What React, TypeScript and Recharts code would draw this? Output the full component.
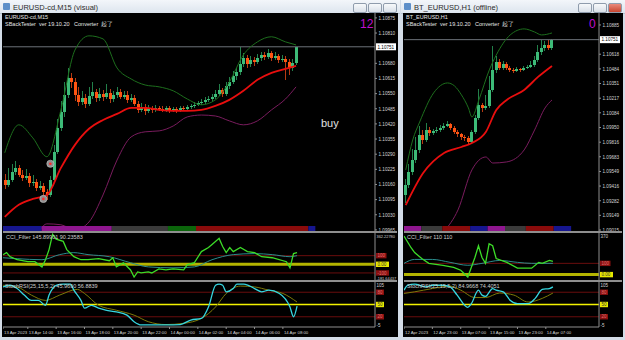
import React from 'react';
import { ComposedChart, BarChart, Bar, Line, XAxis, YAxis, ReferenceLine, ReferenceDot } from 'recharts';

const FONT = '"Liberation Sans", Arial, sans-serif';
const AXIS_TXT = '#d4d4d4';
const FRAME = '#8e8e8e';

// ---------- EURUSD-cd M15 (left window) ----------
const m15Slots = 106;
const m15FirstOpen = 1.1018;
const m15Close = [
  1.10158, 1.1018, 1.10214, 1.10231, 1.10201, 1.10188, 1.10197, 1.10167, 1.10171, 1.10145, 1.10154, 1.10128,
  1.10115, 1.1018, 1.103, 1.10403, 1.10472, 1.10544, 1.10617, 1.106, 1.10544, 1.10514, 1.10532, 1.10506,
  1.1054, 1.10557, 1.10532, 1.10549, 1.10536, 1.10553, 1.10527, 1.10544, 1.10557, 1.10536, 1.10544, 1.10523,
  1.10532, 1.10506, 1.1048, 1.10493, 1.10476, 1.10489, 1.1048, 1.10489, 1.10484, 1.1048, 1.10489, 1.10476,
  1.10484, 1.10476, 1.10489, 1.10484, 1.10493, 1.10497, 1.10502, 1.1051, 1.10514, 1.10523, 1.10527, 1.10536,
  1.10549, 1.10566, 1.10549, 1.10583, 1.106, 1.10626, 1.10643, 1.10677, 1.10703, 1.10677, 1.10695, 1.10686,
  1.10703, 1.10716, 1.10707, 1.10725, 1.10703, 1.10712, 1.10695, 1.10699, 1.10686, 1.1066, 1.10682, 1.10751,
];
const m15High = [
  1.10205, 1.1023, 1.1025, 1.10262, 1.10245, 1.1022, 1.10225, 1.1021, 1.102, 1.10185, 1.10175, 1.10165,
  1.1014, 1.10195, 1.1033, 1.1044, 1.1052, 1.106, 1.1066, 1.1064, 1.10615, 1.1058, 1.1056, 1.1055,
  1.1058, 1.106, 1.1057, 1.10575, 1.10565, 1.1059, 1.1057, 1.1056, 1.1058, 1.1057, 1.1056, 1.1056,
  1.1055, 1.10545, 1.1052, 1.1051, 1.10505, 1.105, 1.10498, 1.105, 1.10496, 1.10495, 1.10498, 1.10495,
  1.10494, 1.10492, 1.10498, 1.10497, 1.10503, 1.10506, 1.10512, 1.1052, 1.10525, 1.10535, 1.1054, 1.1055,
  1.10565, 1.1059, 1.10575, 1.106, 1.1062, 1.10645, 1.1066, 1.1075, 1.10725, 1.10715, 1.10712, 1.10708,
  1.1072, 1.1073, 1.10728, 1.1074, 1.10735, 1.10728, 1.10722, 1.10715, 1.1071, 1.107, 1.107, 1.10752,
];
const m15Low = [
  1.1014, 1.1015, 1.1017, 1.102, 1.1019, 1.10175, 1.1018, 1.1015, 1.10155, 1.1013, 1.10135, 1.1011,
  1.10095, 1.10105, 1.1017, 1.1029, 1.1039, 1.1045, 1.1053, 1.10575, 1.1052, 1.10495, 1.105, 1.1049,
  1.10495, 1.10525, 1.10515, 1.1052, 1.1052, 1.10525, 1.1051, 1.10515, 1.1053, 1.10525, 1.10525, 1.1051,
  1.10515, 1.10495, 1.10465, 1.1047, 1.1046, 1.10465, 1.10468, 1.10472, 1.10474, 1.1047, 1.10472, 1.10465,
  1.1047, 1.10466, 1.1047, 1.10475, 1.10478, 1.10485, 1.10488, 1.10495, 1.105, 1.10505, 1.10512, 1.10515,
  1.10525, 1.1054, 1.10535, 1.1054, 1.1057, 1.1059, 1.1061, 1.1063, 1.10665, 1.1066, 1.10665, 1.1067,
  1.10675, 1.1069, 1.10695, 1.107, 1.1069, 1.10695, 1.1068, 1.10685, 1.1061, 1.1063, 1.10645, 1.10672,
];
const m15BandAt = [0, 4, 8, 12, 16, 20, 24, 28, 32, 36, 40, 44, 48, 52, 56, 60, 64, 68, 72, 76, 80, 83];
const m15Upper = [
  1.10296, 1.10416, 1.1036, 1.10279, 1.1048, 1.10737, 1.10798, 1.10785, 1.1066, 1.10613, 1.10587,
  1.10579, 1.10562, 1.10527, 1.10502, 1.10523, 1.106, 1.10716, 1.10772, 1.10794, 1.10772, 1.10759,
];
const m15Mid = [
  1.10021, 1.10073, 1.10098, 1.10115, 1.10231, 1.1033, 1.10399, 1.10437, 1.10463, 1.10489, 1.10489,
  1.1048, 1.10476, 1.10476, 1.1048, 1.10497, 1.10523, 1.10562, 1.10609, 1.10639, 1.10656, 1.10669,
];
const m15Lower = [
  1.09837, 1.0988, 1.09923, 1.09991, 1.09987, 1.09965, 1.09999, 1.10115, 1.10265, 1.10364, 1.10386,
  1.1039, 1.10411, 1.1045, 1.10458, 1.10454, 1.10433, 1.10416, 1.10433, 1.1048, 1.10527, 1.10579,
];
// 1.10745 sits under the last-price box, so it is left out
const m15PriceTicks = [
  1.09965, 1.1003, 1.10095, 1.1016, 1.10225, 1.1029, 1.10355, 1.1042, 1.10485, 1.1055, 1.10615, 1.1068,
  1.1081, 1.10875,
];
const m15Last = 1.10751;
const m15SignalAt = [13, 11];
const m15SignalPrice = [1.10249, 1.10098];
const m15TimeAt = [0, 7, 15, 23, 31, 39, 47, 55, 63, 71, 79];
const m15TimeText = [
  '13 Apr 2023', '13 Apr 14:00', '13 Apr 16:00', '13 Apr 18:00', '13 Apr 20:00', '13 Apr 22:00',
  '14 Apr 00:00', '14 Apr 02:00', '14 Apr 04:00', '14 Apr 06:00', '14 Apr 08:00',
];
const m15CciAt = [
  0, 1, 2, 4, 7, 9, 11, 12, 13, 14, 15, 17, 18, 20, 22, 24, 27, 30, 31, 32, 34, 36, 37, 38, 39, 41, 42, 44,
  46, 48, 51, 52, 54, 56, 58, 59, 61, 62, 63, 64, 65, 67, 69, 71, 73, 76, 80, 81, 82, 83,
];
const m15Cci = [
  112, 135, 88, 53, 30, 30, -30, 53, 170, 347, 290, 265, 170, 88, 53, 53, 65, 41, 76, -30, 18, -65, -147, -88,
  -100, -88, -100, -53, -65, -53, -65, -6, 18, 147, 194, 230, 300, 206, 135, 194, 147, 194, 147, 135, 88, 76,
  30, -41, 124, 135,
];
const m15CciSigAt = [0, 4, 11, 16, 20, 24, 30, 36, 41, 48, 54, 59, 65, 71, 76, 81, 83];
const m15CciSig = [76, 65, 53, 112, 135, 112, 88, 18, -30, -41, -30, 53, 112, 124, 112, 88, 100];
const m15CciTicks = [-181.64437, -100, 0, 100, 362.2278];
const m15CciText = ['-181.64437', '-100', '0.00', '100', '362.22780'];
const m15StochAt = [
  0, 2, 4, 6, 8, 10, 12, 13, 15, 17, 19, 20, 22, 23, 25, 27, 29, 32, 35, 37, 39, 42, 46, 50, 53, 56, 58, 60,
  61, 62, 63, 65, 66, 68, 71, 73, 75, 78, 81, 82, 83,
];
const m15Stoch = [
  93, 97, 89, 73, 60, 60, 48, 73, 97, 100, 100, 85, 60, 41, 48, 41, 36, 32, 24, 8, 0, 0, 0, 1, 12, 16, 44, 97,
  100, 97, 81, 89, 100, 100, 89, 81, 85, 77, 44, 20, 46,
];
const m15StochSigAt = [0, 4, 8, 12, 16, 21, 23, 27, 32, 37, 41, 46, 51, 56, 60, 63, 67, 71, 75, 79, 83];
const m15StochSig = [97, 93, 73, 60, 73, 87, 77, 48, 36, 24, 8, 1, 4, 16, 44, 77, 95, 93, 85, 77, 56];
const m15SegLen = [11, 20, 16, 8, 32, 2];
const m15SegColor = ['#16168f', '#8f168f', '#3a3a3a', '#0b650b', '#8a0b0b', '#16168f'];

// ---------- BT_EURUSD H1 (right window) ----------
const h1Slots = 56;
const h1FirstOpen = 1.09335;
const h1Close = [
  1.09426, 1.09544, 1.09654, 1.09745, 1.09882, 1.09836, 1.09927, 1.099, 1.09918, 1.09927, 1.09946, 1.09964,
  1.09982, 1.09946, 1.09909, 1.09891, 1.09864, 1.09854, 1.09818, 1.09909, 1.10037, 1.10155, 1.10128, 1.10146,
  1.10292, 1.10475, 1.10548, 1.10493, 1.10529, 1.10493, 1.10475, 1.10466, 1.10484, 1.10475, 1.10493, 1.10502,
  1.1052, 1.10566, 1.10639, 1.10675, 1.10703, 1.10675, 1.10751,
];
const h1High = [
  1.0948, 1.0962, 1.0975, 1.0986, 1.0996, 1.0993, 1.0999, 1.0995, 1.0994, 1.0995, 1.0997, 1.0999, 1.1001,
  1.09995, 1.0996, 1.09925, 1.099, 1.0988, 1.0987, 1.0993, 1.1006, 1.103, 1.1017, 1.1025, 1.1042, 1.1069,
  1.106, 1.1057, 1.1056, 1.10545, 1.1051, 1.1049, 1.105, 1.10495, 1.1051, 1.1052, 1.1056, 1.106, 1.107,
  1.10751, 1.1074, 1.10751, 1.1076,
];
const h1Low = [
  1.09262, 1.094, 1.0952, 1.0963, 1.0972, 1.098, 1.0982, 1.0987, 1.0988, 1.099, 1.0991, 1.0993, 1.0995,
  1.0993, 1.0989, 1.0986, 1.0984, 1.0983, 1.0979, 1.098, 1.09895, 1.1002, 1.1009, 1.1011, 1.1013, 1.1027,
  1.1045, 1.1047, 1.1047, 1.1047, 1.10455, 1.1045, 1.10455, 1.1046, 1.10465, 1.10485, 1.1049, 1.10505,
  1.1055, 1.1061, 1.1065, 1.1066, 1.1066,
];
const h1UpperAt = [0, 2, 4, 8, 12, 14, 16, 18, 19, 21, 24, 26, 30, 34, 37, 39, 42];
const h1Upper = [
  1.09563, 1.09836, 1.1, 1.10265, 1.10356, 1.10329, 1.10247, 1.10128, 1.10046, 1.10201, 1.10475, 1.10611,
  1.10794, 1.10849, 1.10821, 1.10794, 1.10812,
];
const h1MidAt = [0, 5, 11, 16, 19, 23, 26, 29, 34, 38, 42];
const h1Mid = [1.09243, 1.09535, 1.09718, 1.09772, 1.09809, 1.09909, 1.1011, 1.10201, 1.10292, 1.10411, 1.10511];
const h1LowerAt = [0, 6, 11, 15, 19, 23, 25, 29, 34, 37, 40, 42];
const h1Lower = [1.086, 1.088, 1.08997, 1.09198, 1.09563, 1.09681, 1.09626, 1.09636, 1.09745, 1.09927, 1.10128, 1.10201];
const h1PriceTicks = [
  1.09015, 1.09149, 1.09282, 1.09416, 1.09549, 1.09683, 1.09816, 1.0995, 1.10084, 1.10217, 1.10351, 1.10484,
  1.10618, 1.10885,
];
const h1Last = 1.10751;
const h1TimeAt = [0, 8, 16, 24, 32, 40];
const h1TimeText = ['12 Apr 2023', '12 Apr 23:00', '13 Apr 07:00', '13 Apr 15:00', '13 Apr 23:00', '14 Apr 07:00'];
const h1CciAt = [0, 2, 3, 5, 7, 11, 14, 16, 18, 19, 20, 21, 22, 23, 24, 25, 26, 29, 32, 36, 38, 39, 41, 42];
const h1Cci = [343, 239, 196, 143, 100, 83, 65, 39, -22, 65, 152, 257, 152, 100, 274, 257, 143, 109, 57, 57, 109, 100, 126, 117];
const h1CciSigAt = [0, 3, 8, 13, 18, 22, 27, 32, 36, 42];
const h1CciSig = [100, 135, 135, 109, 83, 100, 126, 109, 100, 100];
const h1CciTicks = [0, 100, 370];
const h1CciText = ['0.00', '100', '370'];
const h1StochAt = [0, 1, 3, 6, 8, 11, 13, 15, 18, 19, 21, 22, 23, 25, 26, 28, 30, 32, 35, 37, 39, 41, 42];
const h1Stoch = [85, 97, 100, 93, 97, 97, 93, 73, 43, 52, 85, 73, 70, 89, 85, 81, 60, 52, 52, 65, 87, 89, 93];
const h1StochSigAt = [0, 3, 8, 13, 16, 20, 23, 27, 31, 35, 39, 42];
const h1StochSig = [77, 81, 89, 95, 85, 67, 67, 78, 73, 56, 65, 78];
const h1SegLen = [5, 6, 8, 5, 5, 6, 8, 5];
const h1SegColor = ['#8f168f', '#3a3a3a', '#8a0b0b', '#16168f', '#8f168f', '#3a3a3a', '#8a0b0b', '#16168f'];

const stochTicks = [-5, 20, 50, 80, 105];
const stochText = ['-5', '20', '50', '80', '105'];

type Row = { i: number; [k: string]: number | undefined };

function buildRows(slots: number, firstOpen: number, close: number[], high: number[], low: number[]) {
  const rows: Row[] = [];
  for (let i = 0; i < slots; i++) rows.push({ i });
  close.forEach((c, k) => {
    rows[k].open = k === 0 ? firstOpen : close[k - 1];
    rows[k].close = c;
    rows[k].high = high[k];
    rows[k].low = low[k];
  });
  return rows;
}

function put(rows: Row[], key: string, at: number[], vals: number[]) {
  at.forEach((k, n) => {
    rows[k][key] = vals[n];
  });
}

const m15Rows = buildRows(m15Slots, m15FirstOpen, m15Close, m15High, m15Low);
put(m15Rows, 'upper', m15BandAt, m15Upper);
put(m15Rows, 'mid', m15BandAt, m15Mid);
put(m15Rows, 'lower', m15BandAt, m15Lower);
put(m15Rows, 'cci', m15CciAt, m15Cci);
put(m15Rows, 'cciSig', m15CciSigAt, m15CciSig);
put(m15Rows, 'stoch', m15StochAt, m15Stoch);
put(m15Rows, 'stochSig', m15StochSigAt, m15StochSig);

const h1Rows = buildRows(h1Slots, h1FirstOpen, h1Close, h1High, h1Low);
put(h1Rows, 'upper', h1UpperAt, h1Upper);
put(h1Rows, 'mid', h1MidAt, h1Mid);
put(h1Rows, 'lower', h1LowerAt, h1Lower);
put(h1Rows, 'cci', h1CciAt, h1Cci);
put(h1Rows, 'cciSig', h1CciSigAt, h1CciSig);
put(h1Rows, 'stoch', h1StochAt, h1Stoch);
put(h1Rows, 'stochSig', h1StochSigAt, h1StochSig);

function Candle(props: any) {
  const { x, y, width, height, payload } = props;
  if (!payload || payload.close == null) return null;
  const top = Math.min(y, y + height);
  const h = Math.abs(height);
  const span = payload.high - payload.low || 1e-9;
  const py = (v: number) => top + ((payload.high - v) / span) * h;
  const up = payload.close >= payload.open;
  const cx = Math.floor(x + width / 2);
  const b1 = py(Math.max(payload.open, payload.close));
  const b2 = py(Math.min(payload.open, payload.close));
  return (
    <g shapeRendering="crispEdges">
      <line x1={cx + 0.5} x2={cx + 0.5} y1={top} y2={top + h} stroke={up ? '#23804a' : '#b83a12'} />
      <rect x={cx - 1} y={b1} width={3} height={Math.max(1, b2 - b1)} fill={up ? '#3dbb78' : '#ff5412'} />
    </g>
  );
}

function PriceTick(props: any) {
  const { x, y, payload, last } = props;
  const v = payload.value as number;
  if (v === last) {
    return (
      <g>
        <rect x={x + 1} y={y - 3.5} width={20} height={7} fill="#ffffff" />
        <text x={x + 2.5} y={y + 1.8} fontSize={4.6} fill="#000" fontFamily={FONT}>
          {v.toFixed(5)}
        </text>
      </g>
    );
  }
  return (
    <g>
      <line x1={x} x2={x + 2} y1={y} y2={y} stroke={FRAME} />
      <text x={x + 3.5} y={y + 1.8} fontSize={4.6} fill={AXIS_TXT} fontFamily={FONT}>
        {v.toFixed(5)}
      </text>
    </g>
  );
}

function LevelTick(props: any) {
  const { x, y, payload, ticks, texts, reds, yellow } = props;
  const v = payload.value as number;
  const label = texts[ticks.indexOf(v)] ?? String(v);
  const isTop = v === ticks[ticks.length - 1];
  const isBottom = v === ticks[0];
  if (reds.includes(v) || v === yellow) {
    const w = label.length * 2.5 + 3;
    return (
      <g>
        <rect x={x + 1} y={y - 2.7} width={w} height={5.4} fill={v === yellow ? '#e8e800' : '#8a1010'} />
        <text x={x + 2.5} y={y + 1.7} fontSize={4.5} fill={v === yellow ? '#333' : '#e07070'} fontFamily={FONT}>
          {label}
        </text>
      </g>
    );
  }
  const dy = isTop ? 4.5 : isBottom ? 0 : 1.7;
  return (
    <text x={x + 1.5} y={y + dy} fontSize={label.length > 6 ? 3.9 : 4.5} fill={AXIS_TXT} fontFamily={FONT}>
      {label}
    </text>
  );
}

function TimeTick(props: any) {
  const { x, y, payload, at, texts } = props;
  const k = at.indexOf(payload.value);
  if (k < 0) return <g />;
  return (
    <g>
      <line x1={x} x2={x} y1={y} y2={y + 2} stroke={FRAME} />
      <text x={x + 1} y={y + 7} fontSize={4.3} fill={AXIS_TXT} fontFamily={FONT}>
        {texts[k]}
      </text>
    </g>
  );
}

function SignalDot(props: any) {
  const { cx, cy } = props;
  return (
    <g>
      <circle cx={cx} cy={cy} r={3.6} fill="#8f8f8f" stroke="#c8c8c8" strokeWidth={0.6} />
      <circle cx={cx} cy={cy} r={1.3} fill="#ff2a2a" />
    </g>
  );
}

type Term = {
  left: number;
  plotW: number;
  axisW: number;
  slots: number;
  rows: Row[];
  priceDomain: number[];
  priceTicks: number[];
  last: number;
  timeAt: number[];
  timeText: string[];
  cciDomain: number[];
  cciTicks: number[];
  cciText: string[];
  segLen: number[];
  segColor: string[];
  signalAt: number[];
  signalPrice: number[];
};

const M0 = { top: 0, right: 0, bottom: 0, left: 0 };

function Terminal({ t }: { t: Term }) {
  const W = t.plotW + t.axisW;
  const segRow: Record<string, number | string> = { name: 'seg' };
  t.segLen.forEach((v, k) => (segRow[`s${k}`] = v));
  const yAxisCommon = {
    orientation: 'right' as const,
    width: t.axisW,
    allowDataOverflow: true,
    interval: 0 as const,
    tickLine: false,
    tickSize: 0,
    tickMargin: 0,
    axisLine: { stroke: FRAME },
  };
  return (
    <>
      <div style={{ position: 'absolute', left: t.left, top: 13 }}>
        <ComposedChart width={W} height={219} data={t.rows} margin={M0} barCategoryGap={0}>
          <XAxis dataKey="i" type="category" hide />
          <YAxis
            {...yAxisCommon}
            domain={t.priceDomain}
            ticks={[...t.priceTicks, t.last]}
            tick={(p: any) => <PriceTick {...p} last={t.last} />}
          />
          <ReferenceLine y={t.last} stroke="#6c7278" />
          <Line dataKey="upper" type="monotone" stroke="#1d6e1d" strokeWidth={1} dot={false} connectNulls isAnimationActive={false} />
          <Line dataKey="lower" type="monotone" stroke="#7a1c5e" strokeWidth={1} dot={false} connectNulls isAnimationActive={false} />
          <Bar
            dataKey={(d: Row) => (d.high == null ? null : [d.low, d.high])}
            shape={(p: any) => <Candle {...p} />}
            isAnimationActive={false}
          />
          <Line dataKey="mid" type="monotone" stroke="#e80e0e" strokeWidth={1.8} dot={false} connectNulls isAnimationActive={false} />
          {t.signalAt.map((a, k) => (
            <ReferenceDot key={k} x={a} y={t.signalPrice[k]} r={3.6} shape={(p: any) => <SignalDot {...p} />} />
          ))}
        </ComposedChart>
      </div>

      <div style={{ position: 'absolute', left: t.left, top: 226 }}>
        <BarChart layout="vertical" width={t.plotW} height={5} data={[segRow]} margin={M0} barCategoryGap={0}>
          <XAxis type="number" domain={[0, t.slots]} hide />
          <YAxis type="category" dataKey="name" hide />
          {t.segLen.map((_, k) => (
            <Bar key={k} dataKey={`s${k}`} stackId="s" fill={t.segColor[k]} isAnimationActive={false} />
          ))}
        </BarChart>
      </div>

      <div style={{ position: 'absolute', left: t.left, top: 231, width: W, height: 2, background: FRAME }} />

      <div style={{ position: 'absolute', left: t.left, top: 233 }}>
        <ComposedChart width={W} height={47} data={t.rows} margin={M0}>
          <XAxis dataKey="i" type="category" hide />
          <YAxis
            {...yAxisCommon}
            domain={t.cciDomain}
            ticks={t.cciTicks}
            tick={(p: any) => <LevelTick {...p} ticks={t.cciTicks} texts={t.cciText} reds={[100, -100]} yellow={0} />}
          />
          <ReferenceLine y={100} stroke="#6a0d0d" />
          <ReferenceLine y={-100} stroke="#6a0d0d" />
          <ReferenceLine y={0} stroke="#b4b400" strokeWidth={3} />
          <Line dataKey="cciSig" type="monotone" stroke="#2b8d8d" strokeWidth={1} dot={false} connectNulls isAnimationActive={false} />
          <Line dataKey="cci" type="linear" stroke="#3cdc28" strokeWidth={1.3} dot={false} connectNulls isAnimationActive={false} />
        </ComposedChart>
      </div>

      <div style={{ position: 'absolute', left: t.left, top: 280, width: W, height: 2, background: FRAME }} />

      <div style={{ position: 'absolute', left: t.left, top: 282 }}>
        <ComposedChart width={W} height={55} data={t.rows} margin={M0}>
          <XAxis
            dataKey="i"
            type="category"
            height={10}
            interval={0}
            tickLine={false}
            tickSize={0}
            tickMargin={0}
            axisLine={{ stroke: FRAME }}
            tick={(p: any) => <TimeTick {...p} at={t.timeAt} texts={t.timeText} />}
          />
          <YAxis
            {...yAxisCommon}
            domain={[-5, 105]}
            ticks={stochTicks}
            tick={(p: any) => <LevelTick {...p} ticks={stochTicks} texts={stochText} reds={[80, 20]} yellow={50} />}
          />
          <ReferenceLine y={80} stroke="#6a0d0d" />
          <ReferenceLine y={20} stroke="#6a0d0d" />
          <ReferenceLine y={50} stroke="#f2f200" strokeWidth={1.5} />
          <Line dataKey="stochSig" type="monotone" stroke="#7d7a08" strokeWidth={1} dot={false} connectNulls isAnimationActive={false} />
          <Line dataKey="stoch" type="monotone" stroke="#35d6e0" strokeWidth={1.3} dot={false} connectNulls isAnimationActive={false} />
        </ComposedChart>
      </div>
    </>
  );
}

const leftTerm: Term = {
  left: 3,
  plotW: 372,
  axisW: 22,
  slots: m15Slots,
  rows: m15Rows,
  priceDomain: [1.09956, 1.10896],
  priceTicks: m15PriceTicks,
  last: m15Last,
  timeAt: m15TimeAt,
  timeText: m15TimeText,
  cciDomain: [-181.64437, 362.2278],
  cciTicks: m15CciTicks,
  cciText: m15CciText,
  segLen: m15SegLen,
  segColor: m15SegColor,
  signalAt: m15SignalAt,
  signalPrice: m15SignalPrice,
};

const rightTerm: Term = {
  left: 404,
  plotW: 195,
  axisW: 23,
  slots: h1Slots,
  rows: h1Rows,
  priceDomain: [1.08997, 1.10994],
  priceTicks: h1PriceTicks,
  last: h1Last,
  timeAt: h1TimeAt,
  timeText: h1TimeText,
  cciDomain: [-48, 370],
  cciTicks: h1CciTicks,
  cciText: h1CciText,
  segLen: h1SegLen,
  segColor: h1SegColor,
  signalAt: [],
  signalPrice: [],
};

const small = { position: 'absolute' as const, fontFamily: FONT, fontSize: 5.5, color: '#e6e6e6', whiteSpace: 'nowrap' as const, lineHeight: 1 };

function TitleBar({ left, width, title, closeRed }: { left: number; width: number; title: string; closeRed?: boolean }) {
  const btn = (x: number, red?: boolean) => (
    <div
      style={{
        position: 'absolute',
        left: x,
        top: 3,
        width: 12,
        height: 8,
        borderRadius: 2,
        border: '1px solid #8f9cac',
        background: red ? 'linear-gradient(#e98a7c, #c8452f)' : 'linear-gradient(#f7f9fb, #d9e0e8)',
      }}
    />
  );
  return (
    <div
      style={{
        position: 'absolute',
        left,
        top: 0,
        width,
        height: 13,
        background: 'linear-gradient(#f3f6fa, #dde5ee)',
        borderBottom: '1px solid #b7c3d0',
      }}
    >
      <div style={{ position: 'absolute', left: 3, top: 3, width: 7, height: 7, background: '#5d8fc9', borderRadius: 1 }} />
      <div style={{ position: 'absolute', left: 13, top: 2.5, fontFamily: FONT, fontSize: 7.5, color: '#2b2b2b', whiteSpace: 'nowrap' }}>
        {title}
      </div>
      {btn(width - 47)}
      {btn(width - 32)}
      {btn(width - 17, closeRed)}
    </div>
  );
}

export default function App() {
  return (
    <div style={{ position: 'fixed', left: 0, top: 0, width: 625, height: 340, background: '#d3dce7', overflow: 'hidden' }}>
      <TitleBar left={0} width={400} title="EURUSD-cd,M15 (visual)" />
      <TitleBar left={401} width={224} title="BT_EURUSD,H1 (offline)" closeRed />

      <div style={{ position: 'absolute', left: 2, top: 13, width: 396, height: 324, background: '#000' }} />
      <div style={{ position: 'absolute', left: 403, top: 13, width: 220, height: 324, background: '#000' }} />

      <Terminal t={leftTerm} />
      <Terminal t={rightTerm} />

      <div style={{ ...small, left: 5, top: 15 }}>EURUSD-cd,M15</div>
      <div style={{ ...small, left: 5, top: 22 }}>SBackTester&nbsp;&nbsp;ver 19.10.20&nbsp;&nbsp;&nbsp;Converter&nbsp;&nbsp;起了</div>
      <div style={{ ...small, left: 406, top: 15 }}>BT_EURUSD,H1</div>
      <div style={{ ...small, left: 406, top: 22 }}>SBackTester&nbsp;&nbsp;ver 19.10.20&nbsp;&nbsp;&nbsp;Converter&nbsp;&nbsp;起了</div>

      <div style={{ position: 'absolute', left: 360, top: 17, fontFamily: FONT, fontSize: 12, color: '#c010d0' }}>12</div>
      <div style={{ position: 'absolute', left: 589, top: 17, fontFamily: FONT, fontSize: 12, color: '#c010d0' }}>0</div>
      <div style={{ position: 'absolute', left: 321, top: 117, fontFamily: FONT, fontSize: 11, color: '#e2e2e2' }}>buy</div>

      <div style={{ ...small, left: 6, top: 235, color: '#cfcfcf' }}>CCI_Filter 145.89901 90.23583</div>
      <div style={{ ...small, left: 5, top: 284, color: '#cfcfcf' }}>StochRSI(25,15,5,2) 45.9690 56.8839</div>
      <div style={{ ...small, left: 407, top: 235, color: '#cfcfcf' }}>CCI_Filter 110 110</div>
      <div style={{ ...small, left: 407, top: 284, color: '#cfcfcf' }}>StochRSI(25,15,5,2) 84.9668 74.4051</div>
    </div>
  );
}
